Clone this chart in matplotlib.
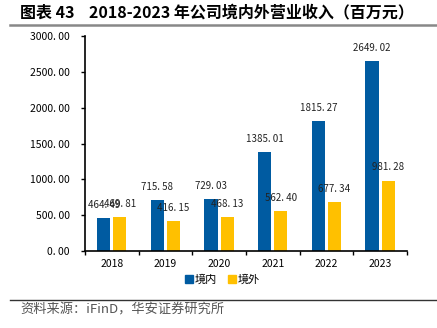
import numpy as np
import matplotlib
matplotlib.use("Agg")
import matplotlib.pyplot as plt
from matplotlib.lines import Line2D

plt.rcParams['font.family'] = ['Noto Sans CJK SC', 'DejaVu Sans']

years = ['2018', '2019', '2020', '2021', '2022', '2023']
domestic = [464.49, 715.58, 729.03, 1385.01, 1815.27, 2649.02]
overseas = [469.81, 416.15, 468.13, 562.40, 677.34, 981.28]
series_names = ['境内', '境外']
yticks = [0, 500, 1000, 1500, 2000, 2500, 3000]

BLUE = '#005BA1'
YELLOW = '#FFC000'

fig = plt.figure(figsize=(4.37, 3.28), dpi=100)
ax = fig.add_axes([0.1945, 0.2348, 0.7365, 0.6552])

x = np.arange(len(years))
w = 0.245
off = 0.15
b1 = ax.bar(x - off, domestic, w, color=BLUE)
b2 = ax.bar(x + off, overseas, w, color=YELLOW)

# value labels above each bar
for bars, vals in ((b1, domestic), (b2, overseas)):
    for rect, v in zip(bars, vals):
        ax.annotate(f"{v:.2f}".replace('.', '. '),
                    (rect.get_x() + rect.get_width() / 2, v),
                    xytext=(0, 9.5), textcoords='offset points',
                    ha='center', va='center', fontsize=7, color='#222222')

ax.set_xlim(-0.5, len(years) - 0.5)
ax.set_ylim(0, 3000)
ax.set_yticks(yticks)
ax.set_yticklabels([f"{t:.2f}".replace('.', '. ') for t in yticks], fontsize=7.5)
ax.set_xticks(x)
ax.set_xticklabels(years, fontsize=7.5)
ax.set_xticks(np.arange(len(years) + 1) - 0.5, minor=True)
ax.tick_params(axis='x', which='major', length=0, pad=6)
ax.tick_params(axis='x', which='minor', length=3, width=1)
ax.tick_params(axis='y', length=3, width=1, pad=8)

for s in ('top', 'right'):
    ax.spines[s].set_visible(False)
ax.spines['left'].set_linewidth(1.2)
ax.spines['bottom'].set_linewidth(1.2)

handles = [Line2D([], [], marker='s', linestyle='none', markersize=6, color=BLUE),
           Line2D([], [], marker='s', linestyle='none', markersize=6, color=YELLOW)]
fig.legend(handles, series_names, loc='center', bbox_to_anchor=(0.508, 0.146),
           ncol=2, frameon=False, fontsize=8, handletextpad=0.1,
           columnspacing=1.0, handlelength=0.8)

# title and source
fig.text(0.046, 0.963, '图表 43    2018-2023 年公司境内外营业收入（百万元）',
         fontsize=11.5, fontweight='bold', va='center', ha='left')
fig.add_artist(Line2D([0.023, 1.0], [0.925, 0.925], color='#888888', lw=1.8))
fig.add_artist(Line2D([0.023, 1.0], [0.085, 0.085], color='#333333', lw=1.0))
fig.text(0.046, 0.055, '资料来源：iFinD，华安证券研究所', fontsize=9.5,
         color='#555555', va='center', ha='left')

fig.savefig('out.png', dpi=100)
